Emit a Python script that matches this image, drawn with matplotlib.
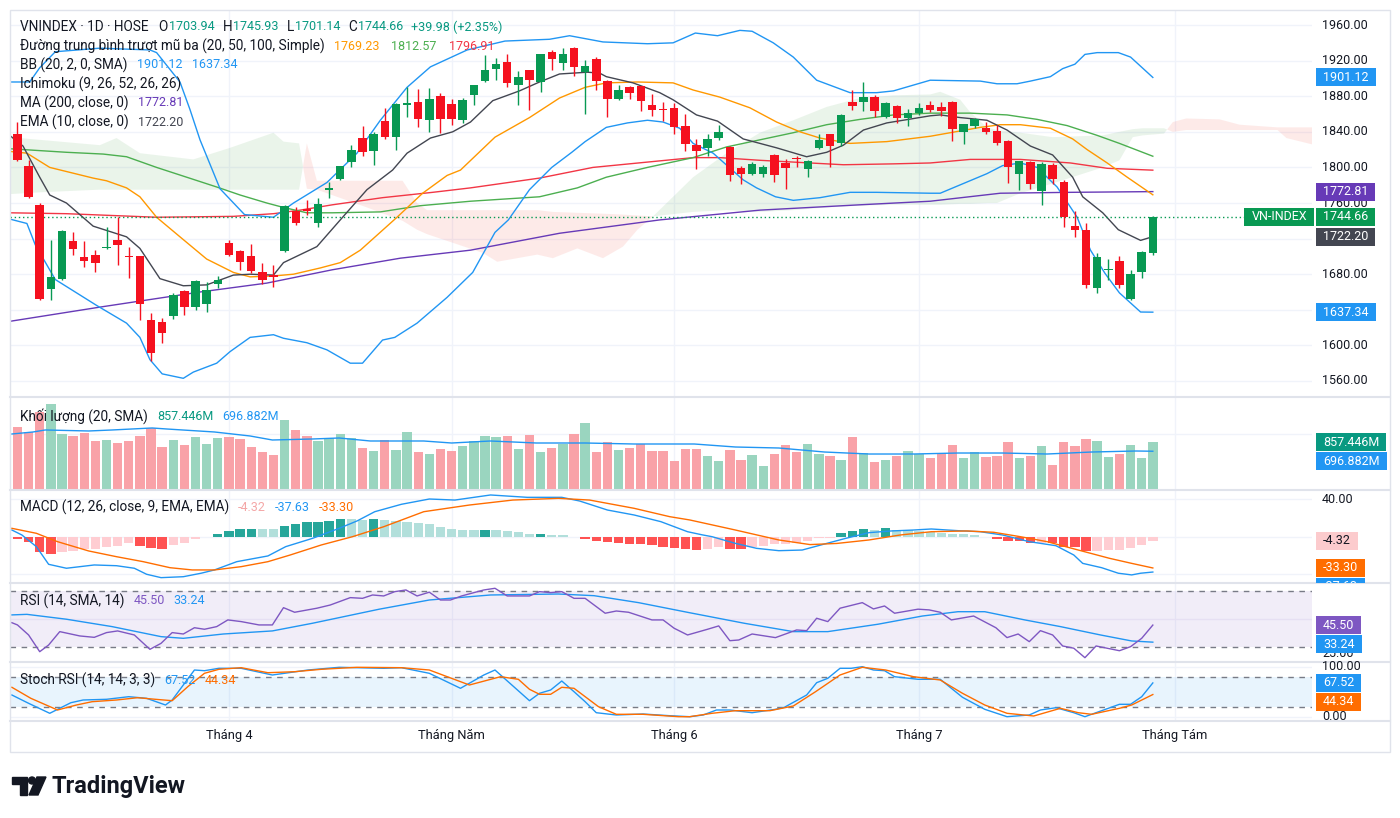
import matplotlib
matplotlib.use("Agg")
import matplotlib.pyplot as plt
from matplotlib.patches import Rectangle, Polygon, Ellipse
from matplotlib.lines import Line2D
from matplotlib.transforms import Bbox
import numpy as np

# ---------------- daily candles (VNINDEX, HOSE) ----------------
opens = [1837, 1802, 1758, 1663, 1675, 1717, 1699, 1702, 1709, 1718,
         1701, 1700, 1629, 1626, 1633, 1661, 1643, 1646, 1669, 1715,
         1706, 1700, 1682, 1679, 1706, 1751, 1753, 1738, 1775, 1787,
         1806, 1833, 1818, 1852, 1834, 1870, 1873, 1853, 1880, 1871,
         1853, 1881, 1897, 1911, 1919, 1893, 1909, 1896, 1930, 1917,
         1934, 1907, 1922, 1897, 1877, 1890, 1891, 1870, 1866, 1867,
         1846, 1825, 1822, 1833, 1823, 1799, 1793, 1793, 1814, 1805,
         1811, 1798, 1822, 1837, 1828, 1873, 1873, 1879, 1857, 1869,
         1856, 1861, 1870, 1868, 1874, 1840, 1847, 1844, 1841, 1830,
         1793, 1806, 1773, 1803, 1784, 1734, 1730, 1664, 1685, 1695,
         1652, 1682, 1703.94]
highs = [1851, 1808, 1760, 1718, 1730, 1727, 1717, 1707, 1733, 1744,
         1711, 1701, 1636, 1631, 1659, 1662, 1674, 1671, 1678, 1718,
         1707, 1714, 1693, 1690, 1758, 1755, 1763, 1766, 1784, 1802,
         1825, 1847, 1840, 1867, 1872, 1890, 1888, 1889, 1884, 1877,
         1878, 1893, 1926, 1923, 1928, 1908, 1910, 1928, 1932, 1934,
         1935, 1921, 1924, 1898, 1893, 1891, 1892, 1883, 1873, 1872,
         1860, 1832, 1838, 1848, 1824, 1802, 1806, 1803, 1815, 1810,
         1813, 1808, 1837, 1838, 1860, 1887, 1896, 1881, 1874, 1870,
         1866, 1872, 1875, 1874, 1875, 1849, 1856, 1851, 1848, 1831,
         1807, 1807, 1806, 1805, 1786, 1751, 1738, 1704, 1697, 1701,
         1685, 1706, 1745.93]
lows = [1807, 1766, 1651, 1651, 1674, 1702, 1688, 1682, 1708, 1690,
        1676, 1628, 1583, 1603, 1630, 1634, 1640, 1638, 1664, 1700,
        1685, 1681, 1669, 1666, 1705, 1735, 1746, 1733, 1766, 1786,
        1800, 1813, 1803, 1832, 1820, 1857, 1845, 1840, 1839, 1848,
        1850, 1870, 1896, 1898, 1890, 1870, 1865, 1885, 1909, 1909,
        1903, 1860, 1887, 1857, 1876, 1877, 1863, 1858, 1852, 1837,
        1819, 1798, 1813, 1831, 1785, 1781, 1791, 1789, 1784, 1776,
        1801, 1789, 1821, 1800, 1824, 1864, 1863, 1857, 1856, 1850,
        1846, 1859, 1862, 1858, 1830, 1826, 1844, 1838, 1825, 1783,
        1775, 1776, 1758, 1781, 1733, 1722, 1665, 1659, 1674, 1664,
        1651, 1676, 1701.14]
closes = [1808, 1767, 1652, 1677, 1728, 1708, 1695, 1693, 1711, 1713,
          1699, 1647, 1591, 1614, 1657, 1643, 1672, 1662, 1674, 1702,
          1694, 1684, 1674, 1677, 1757, 1737, 1751, 1759, 1777, 1802,
          1820, 1817, 1838, 1834, 1871, 1872, 1854, 1877, 1854, 1854,
          1876, 1893, 1909, 1916, 1895, 1902, 1898, 1927, 1922, 1928,
          1913, 1914, 1897, 1877, 1887, 1884, 1875, 1864, 1864, 1845,
          1826, 1819, 1832, 1840, 1791, 1793, 1804, 1800, 1792, 1799,
          1809, 1807, 1831, 1824, 1859, 1869, 1879, 1863, 1872, 1855,
          1861, 1867, 1865, 1863, 1843, 1849, 1854, 1840, 1828, 1801,
          1807, 1781, 1804, 1787, 1744, 1730, 1668, 1699, 1686, 1668,
          1680, 1704.68, 1744.66]

# volume in millions of shares
volumes = [1138, 1037, 1397, 1546, 1007, 971, 1030, 881, 899, 851,
           887, 971, 1109, 779, 899, 809, 953, 827, 935, 958,
           911, 779, 689, 629, 1259, 1079, 976, 887, 929, 1007,
           929, 761, 707, 893, 719, 1049, 689, 647, 737, 707,
           791, 887, 971, 958, 976, 737, 989, 683, 761, 822,
           1007, 1210, 689, 857, 719, 749, 827, 707, 707, 521,
           737, 737, 611, 521, 719, 539, 629, 431, 647, 809,
           689, 827, 647, 611, 539, 958, 659, 509, 539, 611,
           701, 641, 581, 641, 809, 581, 683, 593, 611, 863,
           581, 611, 791, 450, 863, 791, 922, 887, 593, 647,
           809, 581, 857.446]

macd_hist = [-2.4, -5.3, -16.0, -18.4, -16.0, -15.2, -13.4, -12.8, -10.6, -9.6,
             -7.1, -9.6, -12.4, -13.1, -8.8, -7.1, -2.4, -0.7, 2.9, 6.4,
             8.2, 8.4, 8.2, 8.0, 11.7, 13.5, 15.3, 16.0, 17.0, 18.5,
             18.3, 18.1, 18.8, 17.8, 16.7, 15.3, 14.2, 13.1, 10.6, 8.2,
             7.1, 7.0, 7.3, 7.0, 6.1, 4.7, 2.9, 3.1, 1.8, 1.6,
             -0.7, -2.1, -4.3, -6.0, -7.1, -7.8, -8.1, -8.8, -10.6, -11.7,
             -13.1, -14.2, -13.1, -11.3, -13.1, -13.3, -10.6, -9.6, -7.8, -7.6,
             -7.1, -4.3, -1.8, -1.1, 4.3, 6.1, 7.8, 7.6, 9.2, 7.1,
             6.9, 6.1, 5.4, 4.3, 2.9, 2.5, 1.8, -0.7, -2.4, -4.3,
             -4.5, -7.1, -6.4, -7.2, -10.6, -10.8, -15.2, -15.0, -14.6, -14.2,
             -12.4, -8.8, -4.32]

# ---------------- indicator lines, read as (bar index, value) ----------------
bb_up_x = [-0.7, 1.1, 2, 3.4, 7.4, 11.9, 12.5, 14.6, 15.5, 16.4, 18.2, 20.4, 23, 24.8, 27.8,
           30.5, 32.6, 35, 37.1, 40.4, 43.8, 47.8, 49.6, 52.6, 56.6, 58.9, 60.9, 62.9, 64.9, 66,
           67.9, 69.7, 71.8, 74.8, 77.2, 78.7, 82, 86.5, 88, 89.8, 91, 92.8, 93.9, 95, 95.9,
           97, 98.9, 100, 102]
bb_up_y = [1896, 1896, 1912, 1930, 1934, 1932, 1929, 1896, 1865, 1831, 1776, 1747, 1744, 1760, 1783,
           1816, 1853, 1890, 1913, 1932, 1942, 1944, 1948, 1941, 1939, 1940, 1951, 1948, 1954, 1953,
           1940, 1924, 1898, 1884, 1884, 1886, 1898, 1897, 1894, 1894, 1897, 1902, 1911, 1916, 1927,
           1929, 1929, 1924, 1901.12]
bb_lo_x = [-0.7, 0.85, 1.6, 3.4, 7.1, 9.8, 11, 11.9, 13, 14.9, 15.8, 17.9, 19.1, 20.9, 23,
           23.9, 26, 27.8, 29.9, 31, 32.8, 33.9, 35.9, 38.6, 40.9, 42.9, 44.1, 46, 48, 49.8,
           51, 52.9, 54.8, 56.6, 58, 59.5, 60.7, 62.5, 63.4, 65.2, 66.4, 68.1, 69.7, 72.1, 74.8,
           77.2, 82, 82.9, 85, 87.1, 88.5, 90.1, 91.6, 93.4, 95.2, 96.4, 97.7, 99, 100.9, 102]
bb_lo_y = [1742, 1737, 1713, 1674, 1645, 1625, 1609, 1584, 1568, 1563, 1570, 1580, 1593, 1609, 1612,
           1608, 1603, 1595, 1580, 1580, 1606, 1609, 1625, 1654, 1682, 1727, 1741, 1775, 1800, 1817,
           1829, 1845, 1850, 1853, 1851, 1844, 1827, 1816, 1806, 1786, 1777, 1767, 1763, 1766, 1772,
           1772, 1771, 1771, 1782, 1793, 1802, 1805, 1800, 1778, 1744, 1707, 1681, 1659, 1637.5, 1637.34]
ma20_x = [-0.7, 0.85, 2.9, 6.8, 8, 9.8, 11, 12.5, 14.6, 17, 19.4, 20.9, 23, 24.8, 27.2,
          29, 30.8, 34.1, 36.4, 38.6, 39.8, 42.9, 46, 48.7, 51, 52.9, 55.7, 58.9, 60.7, 63.1,
          65.8, 68.2, 70.3, 72.1, 74.8, 78.1, 82, 83.8, 86.5, 88.3, 90.1, 92.8, 94.8, 96.1, 97.9,
          99.7, 102]
ma20_y = [1818, 1816, 1800, 1788, 1785, 1777, 1767, 1744, 1722, 1697, 1682, 1677, 1678, 1680, 1687,
          1693, 1707, 1744, 1771, 1791, 1797, 1834, 1856, 1878, 1890, 1895, 1896, 1895, 1887, 1879,
          1867, 1851, 1840, 1833, 1827, 1829, 1835, 1839, 1845, 1848, 1848, 1844, 1832, 1820, 1805,
          1789, 1769.23]
ma50_x = [-0.7, 4.4, 7.7, 9.8, 12.5, 15.2, 17.9, 20, 22.4, 23.9, 26, 28.3, 32.6, 36.2, 40.7,
          46.9, 50.3, 52.9, 56.6, 60.7, 63.7, 66.7, 69.7, 72.7, 75.7, 78.7, 82, 85.6, 88.9, 91.6,
          94.3, 97, 99, 102]
ma50_y = [1821, 1817, 1815, 1812, 1800, 1789, 1778, 1769, 1760, 1755, 1749, 1749, 1750, 1757, 1762,
          1767, 1777, 1789, 1800, 1811, 1823, 1831, 1839, 1848, 1854, 1859, 1861, 1861, 1859, 1854,
          1847, 1836, 1827, 1812.57]
ma100_x = [-0.7, 4.4, 12.5, 19.4, 23, 25.4, 28.3, 32.8, 37.3, 40.7, 46.9, 51.7, 56.6, 60.7, 63.1,
           66.7, 71.2, 74.2, 78.7, 82, 85.6, 90.1, 94.6, 97.9, 102]
ma100_y = [1749, 1748, 1744, 1745, 1748, 1752, 1758, 1766, 1772, 1777, 1788, 1800, 1806, 1811, 1811,
           1808, 1805, 1803, 1804, 1805, 1809, 1809, 1805, 1799, 1796.91]
ma200_x = [-0.7, 7.4, 16.4, 22.4, 28.3, 34.4, 40.7, 48.7, 57.7, 66.7, 75.7, 82, 88.3, 94.6, 102]
ma200_y = [1627, 1643, 1660, 1670, 1685, 1698, 1707, 1726, 1741, 1752, 1758, 1762, 1771, 1772, 1772.81]
ema10_x = [-0.7, 0.5, 2, 2.9, 4.4, 6.8, 9.8, 11, 12.8, 14.9, 17, 19.4, 20.9, 23, 23.9,
           26.9, 29, 31.4, 33.7, 35, 37.1, 39.1, 40.7, 42.7, 45.1, 46.9, 48.7, 51.2, 52.3, 52.9,
           55.3, 57.7, 58.9, 61, 62.9, 65.2, 68.2, 70.9, 72.7, 74.2, 76, 78.1, 82, 82.9, 84.7,
           87.1, 88.9, 91, 93, 94.8, 95.7, 97.5, 98.9, 100.9, 102]
ema10_y = [1836, 1824, 1789, 1769, 1760, 1734, 1722, 1709, 1675, 1667, 1668, 1679, 1680, 1679, 1693,
           1711, 1741, 1775, 1797, 1816, 1833, 1840, 1851, 1875, 1886, 1896, 1905, 1907, 1906, 1902,
           1895, 1884, 1876, 1859, 1852, 1832, 1822, 1812, 1817, 1825, 1842, 1850, 1858, 1859, 1856,
           1853, 1842, 1824, 1814, 1789, 1767, 1749, 1730, 1718, 1722.20]

# Ichimoku cloud (leading spans A and B, shifted 26 bars ahead)
cloud_x = [-0.7, 2, 7.4, 8.9, 11, 15.8, 19.1, 23, 23.9, 25.3,
           26.0, 26.9, 31.4, 34.6, 35.9, 36.8, 41.8, 43.1, 46.7, 48.1,
           50.3, 52.6, 54.4, 55.7, 57.1, 60.7, 63.7, 66.7, 69.7, 72.7,
           75.7, 78.7, 82, 82.9, 84.7, 85.6, 87.1, 88, 90.1, 93,
           97.5, 99, 100.2, 101.1, 103, 103.8, 105, 108, 109.8, 113.2,
           114, 116.6]
span_a = [1834, 1831, 1825, 1833, 1816, 1809, 1822, 1839, 1829, 1827,
          1776, 1775, 1755, 1740, 1730, 1725, 1704, 1694, 1702, 1698,
          1709, 1698, 1711, 1730, 1745, 1789, 1816, 1839, 1853, 1868,
          1878, 1881, 1882, 1885, 1876, 1862, 1845, 1842, 1839, 1834,
          1836, 1840, 1843, 1844, 1844, 1840, 1842, 1842, 1842, 1842,
          1833, 1825]
span_b = [1770, 1772, 1775, 1775, 1775, 1775, 1775, 1775, 1775, 1775,
          1827, 1785, 1785, 1785, 1760, 1752, 1752, 1752, 1752, 1750,
          1749, 1748, 1747, 1746, 1745, 1750, 1752, 1750, 1752, 1755,
          1757, 1758, 1758, 1758, 1759, 1759, 1760, 1760, 1771, 1782,
          1800, 1808, 1834, 1836, 1838, 1851, 1855, 1854, 1848, 1845,
          1845, 1845]

vsma_x = [-0.5, 1.4, 2.5, 6.4, 8.5, 12.1, 13.4, 17.7, 19.3, 20.9, 22.9, 26.5, 28.9, 31.7, 36.5, 39,
          42.5, 46.6, 51, 55.4, 60.8, 64.5, 68.4, 72.5, 76.5, 80.5, 84.5, 88.5, 92.5, 96.5, 100.5, 102]
vsma_y = [1007, 1043, 1079, 1061, 1079, 1115, 1097, 1043, 1007, 971, 899, 917, 935, 881, 881, 845,
          881, 845, 845, 827, 827, 773, 755, 683, 647, 647, 665, 665, 647, 683, 701, 696.882]

macd_x = [-0.5, 0.4, 1.7, 2.8, 4.4, 6.9, 8.9, 10.5, 11.6, 12.9, 14.9, 16.5, 17.7, 19.7, 22.5,
          24.1, 26.5, 28.9, 30.5, 32.1, 34.5, 37, 39.3, 42.5, 45.8, 48.9, 50.5, 53, 55.4, 57.8,
          60.2, 61.5, 62.4, 64.5, 66.4, 68.4, 70.5, 72.5, 74.4, 76.5, 78.5, 80.5, 82.1, 84.5, 86.5,
          88.5, 90.9, 93.3, 94.9, 95.7, 97.4, 98.9, 100.1, 100.9, 102]
macd_y = [7.1, 1.8, -10.6, -29.4, -33.6, -30.1, -30.9, -33.6, -40, -43.6, -42.6, -38.9, -35.4, -26.6, -20.5,
          -10.6, -1.8, 8.9, 16.7, 26.6, 34.5, 40.1, 39, 44.4, 41.9, 41.9, 38, 28.4, 23.1, 16,
          5.3, 2, 0, -7.1, -12.4, -14.9, -14.2, -7.8, -1.8, 4.3, 6.1, 7.1, 8.2, 6.4, 5.3,
          1.8, -5.3, -9.6, -19.5, -28.4, -33, -38.9, -40.7, -38.9, -37.63]
sig_x = [-0.5, 1.7, 3.6, 6.4, 8.9, 11.3, 13.7, 15.7, 17.7, 20.1, 22.5, 24.5, 27.3, 30.1, 32.9,
         36.5, 40.6, 44.5, 48.6, 51.4, 55.4, 58.6, 60.4, 64.5, 68.4, 71.2, 73.6, 76.5, 79.3, 82.1,
         85.3, 87.7, 90.1, 92.5, 95.3, 98.1, 100.1, 102]
sig_y = [8.9, 3.6, -5.3, -15.2, -21.3, -26.6, -33, -35.4, -35.4, -31.9, -26.6, -19.5, -8.8, 0, 10.6,
         26.6, 33.7, 39, 40.8, 39, 30.2, 21.3, 17.8, 7.1, -3.5, -8.4, -7.2, -3.5, 1.8, 5.3,
         6.1, 4.7, 0, -5.3, -14.2, -23, -28.4, -33.30]

rsi_x = [-0.5, 0, 1, 2, 2.8, 3.8, 5.6, 6.9, 8, 9,
         10.5, 11.9, 12.9, 13.9, 14.9, 15.9, 16.8, 17.9, 18.9, 20.1,
         21.7, 22.9, 23.9, 24.9, 26.9, 28.1, 29.9, 31, 31.9, 32.9,
         33.9, 34.9, 35.9, 37, 38, 38.9, 39.9, 41.9, 42.9, 44,
         46, 46.9, 47.9, 48.9, 50, 51, 52.8, 53.8, 54.9, 57,
         58, 59, 60.2, 62, 63, 64, 64.8, 66, 68.1, 70,
         70.9, 71.8, 72.8, 73.9, 75.9, 76.9, 77.9, 78.8, 80.9, 81.9,
         82.9, 83.9, 85.9, 87.9, 88.9, 89.9, 90.9, 91.9, 93, 93.9,
         94.9, 95.9, 96.9, 99, 100, 101, 102]
rsi_y = [47.2, 45.6, 38.4, 26.4, 31.2, 40.8, 37.7, 36.7, 40.1, 41.3,
         38.4, 28.1, 32.4, 40.1, 39.1, 43.6, 42.5, 44.4, 49.2, 48,
         45.6, 45.6, 58, 54.7, 57.6, 59.9, 65.2, 64.7, 67.1, 66.4,
         69.5, 70.7, 66.4, 69.1, 63.5, 63.5, 66.4, 70.7, 71.9, 66.4,
         66.4, 69.5, 68.8, 69.5, 64.7, 64.7, 54, 55.6, 54.7, 49.2,
         49.2, 43.2, 38.4, 42.5, 44.9, 34.3, 34.8, 39.1, 36.5, 42,
         41.5, 50.4, 48, 57.6, 61.6, 57.1, 59.2, 54, 56.9, 56.4,
         54.7, 49.2, 52, 43.6, 36.5, 39.1, 33.6, 41.5, 38.4, 30.5,
         28.9, 22.1, 30.5, 27.1, 30, 36, 45.50]
rsima_x = [-0.5, 0.85, 4.4, 8.5, 12.9, 14.9, 18.5, 22.9, 26.5, 32.5, 37, 42.5, 48.6, 51.8,
           55.8, 60.3, 65.3, 69.7, 72.8, 77.3, 81.3, 84.5, 86.9, 90.5, 93.7, 97.3, 100.1, 102]
rsima_y = [52.8, 53.2, 49.7, 44.4, 37.2, 36, 39.1, 41.3, 46.8, 56.9, 63.5, 67.1, 67.8, 66.6,
           61.6, 54.5, 46.8, 40.8, 40.8, 46.1, 52, 55.1, 55.1, 49.2, 44.4, 38.4, 34.1, 33.24]

stk_x = [-0.5, 1, 2.9, 4.8, 5.9, 8, 10, 11.6, 13.3, 13.9,
         15.9, 16.8, 18.1, 20.1, 22.9, 26.1, 28.9, 32.9, 34.5, 37,
         39.8, 41.9, 42.9, 46, 46.9, 47.9, 48.9, 50, 51, 52,
         53.8, 56.2, 58.6, 60.4, 61.6, 62.8, 64, 66, 68.1, 68.9,
         70.9, 71.8, 72.8, 73.9, 74.9, 75.9, 76.9, 77.9, 78.8, 80.9,
         82.9, 84.9, 86.9, 88.9, 90.9, 91.9, 93.3, 94.9, 95.9, 96.9,
         99, 100, 101, 102]
stk_y = [43.4, 26.8, 6.8, 28, 33.4, 34.8, 40, 36.8, 23.4, 33.4,
         93.4, 92, 96.8, 96.8, 83.4, 93.4, 98.8, 96.8, 98, 86.8,
         56.8, 83.4, 93.4, 32, 46.8, 53.4, 71.4, 50, 30, 8,
         3.4, 5.4, 2, 0, 3.4, 13.4, 13.4, 8, 14.8, 18.8,
         43.4, 68, 76.8, 96.8, 96.8, 100, 93.4, 92, 80, 74.8,
         74.8, 38.8, 14.8, 0, 3.4, 13.4, 18, 8, 0, 8,
         24.8, 24.8, 40, 67.52]
std_x = [-0.5, 1.2, 3.6, 5.3, 6.7, 8.9, 10.8, 12.4, 13.9, 15.3,
         16.8, 18.1, 20.1, 22.5, 24.9, 27.3, 30.5, 34.5, 37, 40.6,
         43.4, 45, 46, 46.9, 47.9, 48.9, 50, 52.2, 53.8, 56.2,
         59.4, 60.4, 62.4, 64.5, 67.6, 69.7, 71.7, 73.9, 75.9, 78,
         80.5, 82.9, 84.9, 86.9, 88.9, 91.3, 93.7, 95.3, 96.5, 99,
         100.1, 102]
std_y = [58.8, 36.8, 13.4, 23.4, 30, 33.4, 38, 34.8, 32, 60,
         86.8, 94.8, 98, 88, 90, 94.8, 98.8, 98, 93.4, 63.4,
         80, 74.8, 54.8, 44.8, 44.8, 58.8, 56.8, 20, 4.8, 4.8,
         0, 0, 6.8, 12, 12, 21.4, 50, 83.4, 98.8, 93.4,
         80, 73.4, 46.8, 23.4, 6.8, 1.4, 16.8, 8, 4.8, 16.8,
         23.4, 44.34]

# time axis
month_idx = [19, 39, 59, 81, 104]
month_names = ["Tháng 4", "Tháng Năm", "Tháng 6", "Tháng 7", "Tháng Tám"]
price_ticks = [1560, 1600, 1640, 1680, 1720, 1760, 1800, 1840, 1880, 1920, 1960]

# ---------------- styling ----------------
W, H = 1400, 818
plt.rcParams["font.family"] = ["Roboto", "DejaVu Sans"]
plt.rcParams["font.size"] = 9

TEXT = "#131722"
GRID = "#f0f3fa"
SEP = "#e0e3eb"
UP = "#089953"
DOWN = "#f5111f"
TEAL = "#089981"
BLUE = "#2196f3"
ORANGE = "#ff9800"
ORANGE2 = "#ff6d00"
GREEN50 = "#4caf50"
RED100 = "#f23645"
PURPLE = "#673ab7"
PURPLE_RSI = "#7e57c2"
EMA_C = "#434651"
LEG_FS = 9.8   # legend titles
VAL_FS = 9.0   # legend numbers

fig = plt.figure(figsize=(W / 100, H / 100), dpi=100)
fig.patch.set_facecolor("white")
rend = fig.canvas.get_renderer()

X0, X1 = 10, 1312


def panel(top, bottom, ylim):
    ax = fig.add_axes([X0 / W, 1 - bottom / H, (X1 - X0) / W, (bottom - top) / H])
    ax.set_xlim(-0.67, 116.3)
    ax.set_ylim(*ylim)
    ax.axis("off")
    return ax


ax_p = panel(10, 397, (1542.0, 1976.9))
ax_v = panel(397, 490, (0, 1672))
ax_m = panel(490, 583, (-49.3, 49.7))
ax_r = panel(583, 662, (19.0, 75.7))
ax_s = panel(662, 721, (-8.6, 109.4))

for ax in (ax_p, ax_v, ax_m, ax_r, ax_s):
    for m in month_idx:
        ax.axvline(m, color=GRID, lw=1, zorder=0)

# ---- price pane ----
for v in price_ticks:
    ax_p.axhline(v, color=GRID, lw=1, zorder=0)

cx, sa, sb = np.array(cloud_x), np.array(span_a), np.array(span_b)
ax_p.fill_between(cx, sa, sb, where=sa >= sb, interpolate=True, color="#43a047", alpha=0.11, lw=0, zorder=1)
ax_p.fill_between(cx, sa, sb, where=sa < sb, interpolate=True, color="#f44336", alpha=0.11, lw=0, zorder=1)

ax_p.plot(ma200_x, ma200_y, color=PURPLE, lw=1, zorder=2)
ax_p.plot(ma100_x, ma100_y, color=RED100, lw=1, zorder=2)
ax_p.plot(ma50_x, ma50_y, color=GREEN50, lw=1, zorder=2)
ax_p.plot(ma20_x, ma20_y, color=ORANGE, lw=1, zorder=2)
ax_p.plot(bb_up_x, bb_up_y, color=BLUE, lw=1, zorder=2)
ax_p.plot(bb_lo_x, bb_lo_y, color=BLUE, lw=1, zorder=2)
ax_p.plot(ema10_x, ema10_y, color=EMA_C, lw=1, zorder=2)

idx = np.arange(len(closes))
o, hi, lo, c = (np.array(a, dtype=float) for a in (opens, highs, lows, closes))
up = c >= o
ccol = np.where(up, UP, DOWN)
ax_p.vlines(idx, lo, hi, colors=ccol, lw=1, zorder=3)
ax_p.bar(idx, np.maximum(np.abs(c - o), 1.3), bottom=np.minimum(o, c), width=0.76,
         color=ccol, lw=0, zorder=4)
ax_p.axhline(c[-1], xmin=0, xmax=(1250 - X0) / (X1 - X0), color=UP, lw=1,
             ls=(0, (1, 2)), zorder=2.5)

# ---- volume pane ----
ax_v.axhline(1000, color=GRID, lw=1, zorder=0)
ax_v.bar(idx, volumes, width=0.84, color=np.where(up, "#9ad5bf", "#f9a2a8"), lw=0, zorder=2)
ax_v.plot(vsma_x, vsma_y, color=BLUE, lw=1, zorder=3)

# ---- MACD pane ----
for v in (40, 0, -40):
    ax_m.axhline(v, color=GRID, lw=1, zorder=0)
hist = np.array(macd_hist)
prev = np.concatenate([[0.0], hist[:-1]])
hcol = np.where(hist >= 0, np.where(hist >= prev, "#26a69a", "#b2dfdb"),
                np.where(hist <= prev, "#ff5252", "#ffcdd2"))
ax_m.bar(idx, hist, width=0.84, color=hcol, lw=0, zorder=2)
ax_m.plot(macd_x, macd_y, color=BLUE, lw=1, zorder=3)
ax_m.plot(sig_x, sig_y, color=ORANGE2, lw=1, zorder=3)

# ---- RSI pane ----
ax_r.axhspan(30, 70, color=PURPLE_RSI, alpha=0.1, lw=0, zorder=0)
ax_r.axhline(50, color="#e6e0f3", lw=1, zorder=0)
for v in (70, 30):
    ax_r.axhline(v, color="#787b86", lw=1, ls=(0, (4, 4)), zorder=1)
ax_r.plot(rsima_x, rsima_y, color=BLUE, lw=1, zorder=2)
ax_r.plot(rsi_x, rsi_y, color=PURPLE_RSI, lw=1, zorder=2)

# ---- Stoch RSI pane ----
ax_s.axhspan(20, 80, color=BLUE, alpha=0.1, lw=0, zorder=0)
for v in (100, 0):
    ax_s.axhline(v, color=GRID, lw=1, zorder=0)
for v in (80, 20):
    ax_s.axhline(v, color="#787b86", lw=1, ls=(0, (4, 4)), zorder=1)
ax_s.plot(stk_x, stk_y, color=BLUE, lw=1, zorder=2)
ax_s.plot(std_x, std_y, color=ORANGE2, lw=1, zorder=2)

# ---- frame, separators ----
fig.add_artist(Rectangle((X0 / W, 1 - 752 / H), 1380 / W, 742 / H, transform=fig.transFigure,
                         fill=False, edgecolor=SEP, lw=1, zorder=1))
for yy in (397, 490, 583, 662, 721):
    fig.add_artist(Line2D([X0 / W, 1390 / W], [1 - yy / H, 1 - yy / H], transform=fig.transFigure,
                          color=SEP, lw=1.5, zorder=3))


def ypix(ax, v):
    return ax.transData.transform((0, v))[1]


def axis_label(ax, v, s):
    fig.text(1322 / W, ypix(ax, v) / H, s, color=TEXT, fontsize=9, va="center", ha="left", zorder=4)


for v in price_ticks:
    axis_label(ax_p, v, f"{v:.2f}")
axis_label(ax_m, 40, "40.00")
axis_label(ax_r, 25, "25.00")
for v in (100, 0):
    axis_label(ax_s, v, f"{v:.2f}")


def draw_badge(yb, label, fc, tc="white", x0=1316, h=18, clip=None, right=False):
    t = fig.text(0, yb / H, label, color=tc, fontsize=9, va="center", ha="left", zorder=7)
    w = t.get_window_extent(rend).width + 14
    if right:
        x0 = x0 - w
    t.set_x((x0 + 7) / W)
    r = Rectangle((x0 / W, (yb - h / 2) / H), w / W, h / H, transform=fig.transFigure,
                  facecolor=fc, edgecolor="none", zorder=6)
    fig.add_artist(r)
    if clip is not None:
        r.set_clip_box(clip)
        t.set_clip_box(clip)
        t.set_clip_on(True)


def badges(ax, items):
    bb = ax.get_window_extent(rend)
    clip = Bbox.from_extents(1200, bb.y0, 1400, bb.y1)
    last = None
    for v, s, fc, tc in items:
        yb = ypix(ax, v)
        if last is not None and last - yb < 19:
            yb = last - 19
        last = yb
        draw_badge(yb, s, fc, tc, clip=clip)


badges(ax_p, [(bb_up_y[-1], f"{bb_up_y[-1]:.2f}", BLUE, "white"),
              (ma200_y[-1], f"{ma200_y[-1]:.2f}", PURPLE, "white"),
              (c[-1], f"{c[-1]:.2f}", UP, "white"),
              (ema10_y[-1], f"{ema10_y[-1]:.2f}", EMA_C, "white"),
              (bb_lo_y[-1], f"{bb_lo_y[-1]:.2f}", BLUE, "white")])
draw_badge(ypix(ax_p, c[-1]), "VN-INDEX", UP, x0=1314, right=True)
badges(ax_v, [(volumes[-1], f"{volumes[-1]:.3f}M", TEAL, "white"),
              (vsma_y[-1], f"{vsma_y[-1]:.3f}M", BLUE, "white")])
badges(ax_m, [(macd_hist[-1], f"{macd_hist[-1]:.2f}", "#fccbcd", TEXT),
              (sig_y[-1], f"{sig_y[-1]:.2f}", ORANGE2, "white"),
              (macd_y[-1], f"{macd_y[-1]:.2f}", BLUE, "white")])
badges(ax_r, [(rsi_y[-1], f"{rsi_y[-1]:.2f}", PURPLE_RSI, "white"),
              (rsima_y[-1], f"{rsima_y[-1]:.2f}", BLUE, "white")])
badges(ax_s, [(stk_y[-1], f"{stk_y[-1]:.2f}", BLUE, "white"),
              (std_y[-1], f"{std_y[-1]:.2f}", ORANGE2, "white")])


# ---- legends: (text, colour, gap before, is_number) ----
def row(y, parts, x=20):
    for s, col, gap, num in parts:
        x += gap
        t = fig.text(x / W, 1 - y / H, s, color=col, fontsize=VAL_FS if num else LEG_FS,
                     va="center", ha="left", zorder=8)
        x += t.get_window_extent(rend).width


chg = c[-1] - c[-2]
pct = chg / c[-2] * 100
row(27, [("VNINDEX · 1D · HOSE", TEXT, 0, False),
         ("O", TEXT, 10, False), (f"{o[-1]:.2f}", TEAL, 1, True),
         ("H", TEXT, 8, False), (f"{hi[-1]:.2f}", TEAL, 1, True),
         ("L", TEXT, 8, False), (f"{lo[-1]:.2f}", TEAL, 1, True),
         ("C", TEXT, 8, False), (f"{c[-1]:.2f}", TEAL, 1, True),
         (f"{chg:+.2f} ({pct:+.2f}%)", TEAL, 8, True)])
row(46, [("Đường trung bình trượt mũ ba (20, 50, 100, Simple)", TEXT, 0, False),
         (f"{ma20_y[-1]:.2f}", ORANGE, 9, True), (f"{ma50_y[-1]:.2f}", GREEN50, 12, True),
         (f"{ma100_y[-1]:.2f}", RED100, 12, True)])
row(65, [("BB (20, 2, 0, SMA)", TEXT, 0, False), (f"{bb_up_y[-1]:.2f}", BLUE, 9, True),
         (f"{bb_lo_y[-1]:.2f}", BLUE, 10, True)])
row(84, [("Ichimoku (9, 26, 52, 26, 26)", TEXT, 0, False)])
row(103, [("MA (200, close, 0)", TEXT, 0, False), (f"{ma200_y[-1]:.2f}", PURPLE, 9, True)])
row(122, [("EMA (10, close, 0)", TEXT, 0, False), (f"{ema10_y[-1]:.2f}", EMA_C, 9, True)])
row(416, [("Khối lượng (20, SMA)", TEXT, 0, False), (f"{volumes[-1]:.3f}M", TEAL, 9, True),
          (f"{vsma_y[-1]:.3f}M", BLUE, 9, True)])
row(507, [("MACD (12, 26, close, 9, EMA, EMA)", TEXT, 0, False),
          (f"{macd_hist[-1]:.2f}", "#f4a7a7", 9, True),
          (f"{macd_y[-1]:.2f}", BLUE, 9, True), (f"{sig_y[-1]:.2f}", ORANGE2, 9, True)])
row(601, [("RSI (14, SMA, 14)", TEXT, 0, False), (f"{rsi_y[-1]:.2f}", PURPLE_RSI, 9, True),
          (f"{rsima_y[-1]:.2f}", BLUE, 9, True)])
row(680, [("Stoch RSI (14, 14, 3, 3)", TEXT, 0, False), (f"{stk_y[-1]:.2f}", BLUE, 9, True),
          (f"{std_y[-1]:.2f}", ORANGE2, 9, True)])

# ---- time axis ----
for m, name in zip(month_idx, month_names):
    xp = ax_s.transData.transform((m, 0))[0]
    fig.text(xp / W, 1 - 736 / H, name, color=TEXT, fontsize=9.3, va="center", ha="center")


# ---- TradingView mark ----
def px(x, y):
    return (x / W, 1 - y / H)


fig.add_artist(Polygon([px(12, 777), px(27, 777), px(27, 795), px(20, 795), px(20, 784), px(12, 784)],
                       closed=True, transform=fig.transFigure, color=TEXT))
fig.add_artist(Ellipse(px(32, 780.5), 7 / W, 7 / H, transform=fig.transFigure, color=TEXT))
fig.add_artist(Polygon([px(37, 777), px(46, 777), px(38, 795), px(29, 795)],
                       closed=True, transform=fig.transFigure, color=TEXT))
fig.text(52 / W, 1 - 786 / H, "TradingView", color=TEXT, fontsize=17, fontweight="bold",
         va="center", ha="left")

fig.savefig("out.png", dpi=100)
